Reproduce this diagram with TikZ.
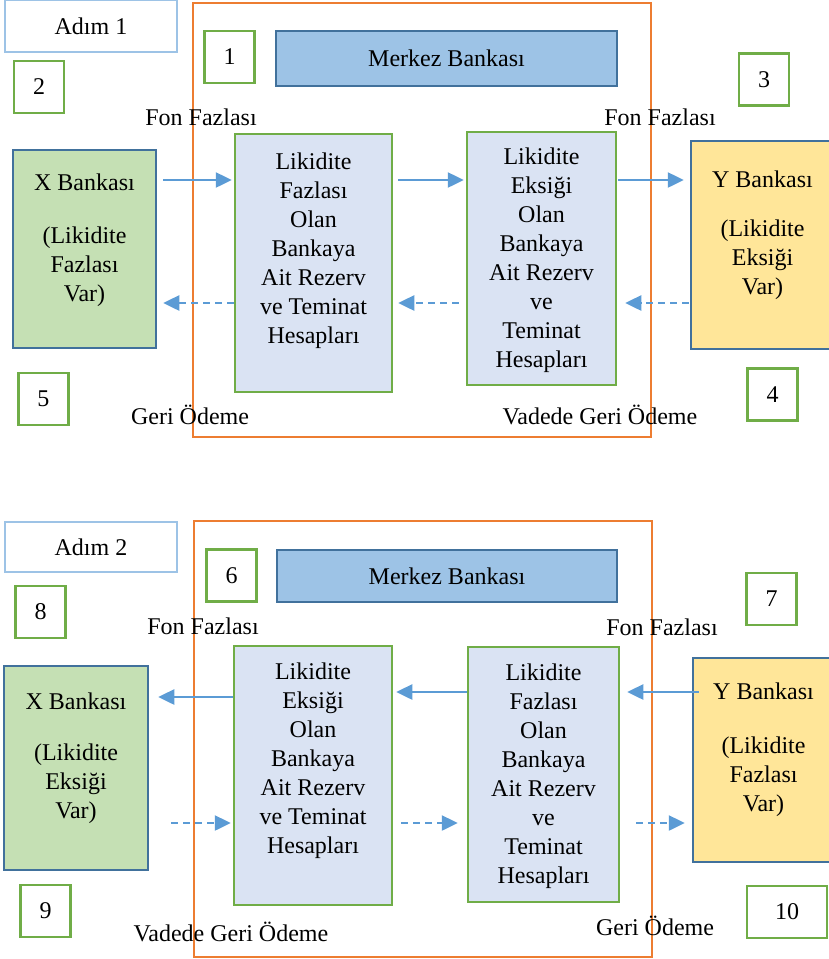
\documentclass[tikz,border=0pt]{standalone}
\usepackage{fontspec}
\setmainfont{Liberation Serif}
\usetikzlibrary{arrows.meta}
\definecolor{arrblue}{HTML}{5B9BD5}
\definecolor{boxgreen}{HTML}{70AD47}
\definecolor{darkblue}{HTML}{41719C}
\definecolor{xfill}{HTML}{C5E0B4}
\definecolor{yfill}{HTML}{FFE699}
\definecolor{mbfill}{HTML}{9DC3E6}
\definecolor{resfill}{HTML}{DAE3F3}
\definecolor{frameorange}{HTML}{ED7D31}
\newcommand{\toptext}[4]{\parbox[c][#1][t]{#2}{\centering\vspace*{#3}#4\par}}
\begin{document}
\begin{tikzpicture}[x=1pt,y=-1pt,
  font=\fontsize{24}{29}\selectfont,
  numbox/.style={draw=boxgreen, line width=2.5pt, fill=white, minimum width=50pt, minimum height=52pt, inner sep=0pt},
  adimbox/.style={draw=mbfill, line width=1.5pt, fill=white, inner sep=0pt},
  mbbox/.style={draw=darkblue, line width=2.5pt, fill=mbfill, inner sep=0pt},
  bankbox/.style={draw=darkblue, line width=2.5pt, inner sep=0pt},
  resbox/.style={draw=boxgreen, line width=2.5pt, fill=resfill, inner sep=0pt},
  lbl/.style={inner sep=0pt},
  frame/.style={draw=frameorange, line width=1.5pt},
  arr/.style={draw=arrblue, line width=2.5pt, -{Triangle[length=16pt,width=15pt]}},
  darr/.style={arr, dash pattern=on 7pt off 5pt}]
\useasboundingbox (0,0) rectangle (829,959);

\draw [frame] (193,3) rectangle (651,437);
\draw [frame] (194,521) rectangle (652,957);

\path
(91,26) node [adimbox, minimum width=172pt, minimum height=52pt] (adim1) {Adım 1}
(229.5,57) node [numbox] (n1) {1}
(446.5,58.5) node [mbbox, minimum width=341pt, minimum height=55pt] (mb1) {Merkez Bankası}
(39,87) node [numbox] (n2) {2}
(764,79.5) node [numbox] (n3) {3}
(201,117) node [lbl] (ff1) {Fon Fazlası}
(660,117) node [lbl] (ff2) {Fon Fazlası}
(84.5,249) node [bankbox, fill=xfill] (xb1) {\toptext{198pt}{143pt}{24pt}{X Bankası\\[24pt](Likidite\\Fazlası\\Var)}}
(313.5,263) node [resbox] (lm1) {\toptext{258pt}{157pt}{19pt}{Likidite\\Fazlası\\Olan\\Bankaya\\Ait Rezerv\\ve Teminat\\Hesapları}}
(541.5,258.5) node [resbox] (rm1) {\toptext{253pt}{149pt}{16pt}{Likidite\\Eksiği\\Olan\\Bankaya\\Ait Rezerv\\ve\\Teminat\\Hesapları}}
(762.5,245) node [bankbox, fill=yfill] (yb1) {\toptext{208pt}{143pt}{30pt}{Y Bankası\\[20pt](Likidite\\Eksiği\\Var)}}
(43.5,399) node [numbox] (n5) {5}
(772.5,394.5) node [numbox] (n4) {4}
(190,415) node [lbl] (go1) {Geri Ödeme}
(600,415) node [lbl] (vgo1) {Vadede Geri Ödeme};

\path
(91,547) node [adimbox, minimum width=172pt, minimum height=50pt] (adim2) {Adım 2}
(231.5,575.5) node [numbox] (n6) {6}
(447,576) node [mbbox, minimum width=340pt, minimum height=52pt] (mb2) {Merkez Bankası}
(771.5,599) node [numbox] (n7) {7}
(40.5,612) node [numbox] (n8) {8}
(203,626) node [lbl] (ff3) {Fon Fazlası}
(662,627) node [lbl] (ff4) {Fon Fazlası}
(76,768) node [bankbox, fill=xfill] (xb2) {\toptext{204pt}{144pt}{27pt}{X Bankası\\[22pt](Likidite\\Eksiği\\Var)}}
(313,775.5) node [resbox] (lm2) {\toptext{259pt}{158pt}{17pt}{Likidite\\Eksiği\\Olan\\Bankaya\\Ait Rezerv\\ve Teminat\\Hesapları}}
(543.5,774.5) node [resbox] (rm2) {\toptext{255pt}{151pt}{17pt}{Likidite\\Fazlası\\Olan\\Bankaya\\Ait Rezerv\\ve\\Teminat\\Hesapları}}
(763.5,760) node [bankbox, fill=yfill] (yb2) {\toptext{204pt}{141pt}{25pt}{Y Bankası\\[25pt](Likidite\\Fazlası\\Var)}}
(45.5,911) node [numbox] (n9) {9}
(787,912) node [numbox, minimum width=80pt] (n10) {10}
(231,932) node [lbl] (vgo2) {Vadede Geri Ödeme}
(655,926) node [lbl] (go2) {Geri Ödeme};

\coordinate (r1) at (0,180);
\coordinate (r2) at (0,303);
\coordinate (r3) at (0,697);
\coordinate (r4) at (0,692);
\coordinate (r5) at (0,823);

\draw [arr, shorten <=6pt, shorten >=2pt] (xb1.east |- r1) -- (lm1.west |- r1);
\draw [arr, shorten <=5pt, shorten >=2pt] (lm1.east |- r1) -- (rm1.west |- r1);
\draw [arr, shorten <=1pt, shorten >=6pt] (rm1.east |- r1) -- (yb1.west |- r1);
\draw [darr, shorten >=6pt] (lm1.west |- r2) -- (xb1.east |- r2);
\draw [darr, shorten <=7pt, shorten >=5pt] (rm1.west |- r2) -- (lm1.east |- r2);
\draw [darr, shorten <=1pt, shorten >=8pt] (yb1.west |- r2) -- (rm1.east |- r2);

\draw [arr, shorten >=9pt] (lm2.west |- r3) -- (xb2.east |- r3);
\draw [arr, shorten >=3pt] (rm2.west |- r4) -- (lm2.east |- r4);
\draw [arr, shorten <=-7pt, shorten >=7pt] (yb2.west |- r4) -- (rm2.east |- r4);
\draw [darr, shorten <=22pt, shorten >=2pt] (xb2.east |- r5) -- (lm2.west |- r5);
\draw [darr, shorten <=8pt, shorten >=9pt] (lm2.east |- r5) -- (rm2.west |- r5);
\draw [darr, shorten <=16pt, shorten >=7pt] (rm2.east |- r5) -- (yb2.west |- r5);
\end{tikzpicture}
\end{document}
